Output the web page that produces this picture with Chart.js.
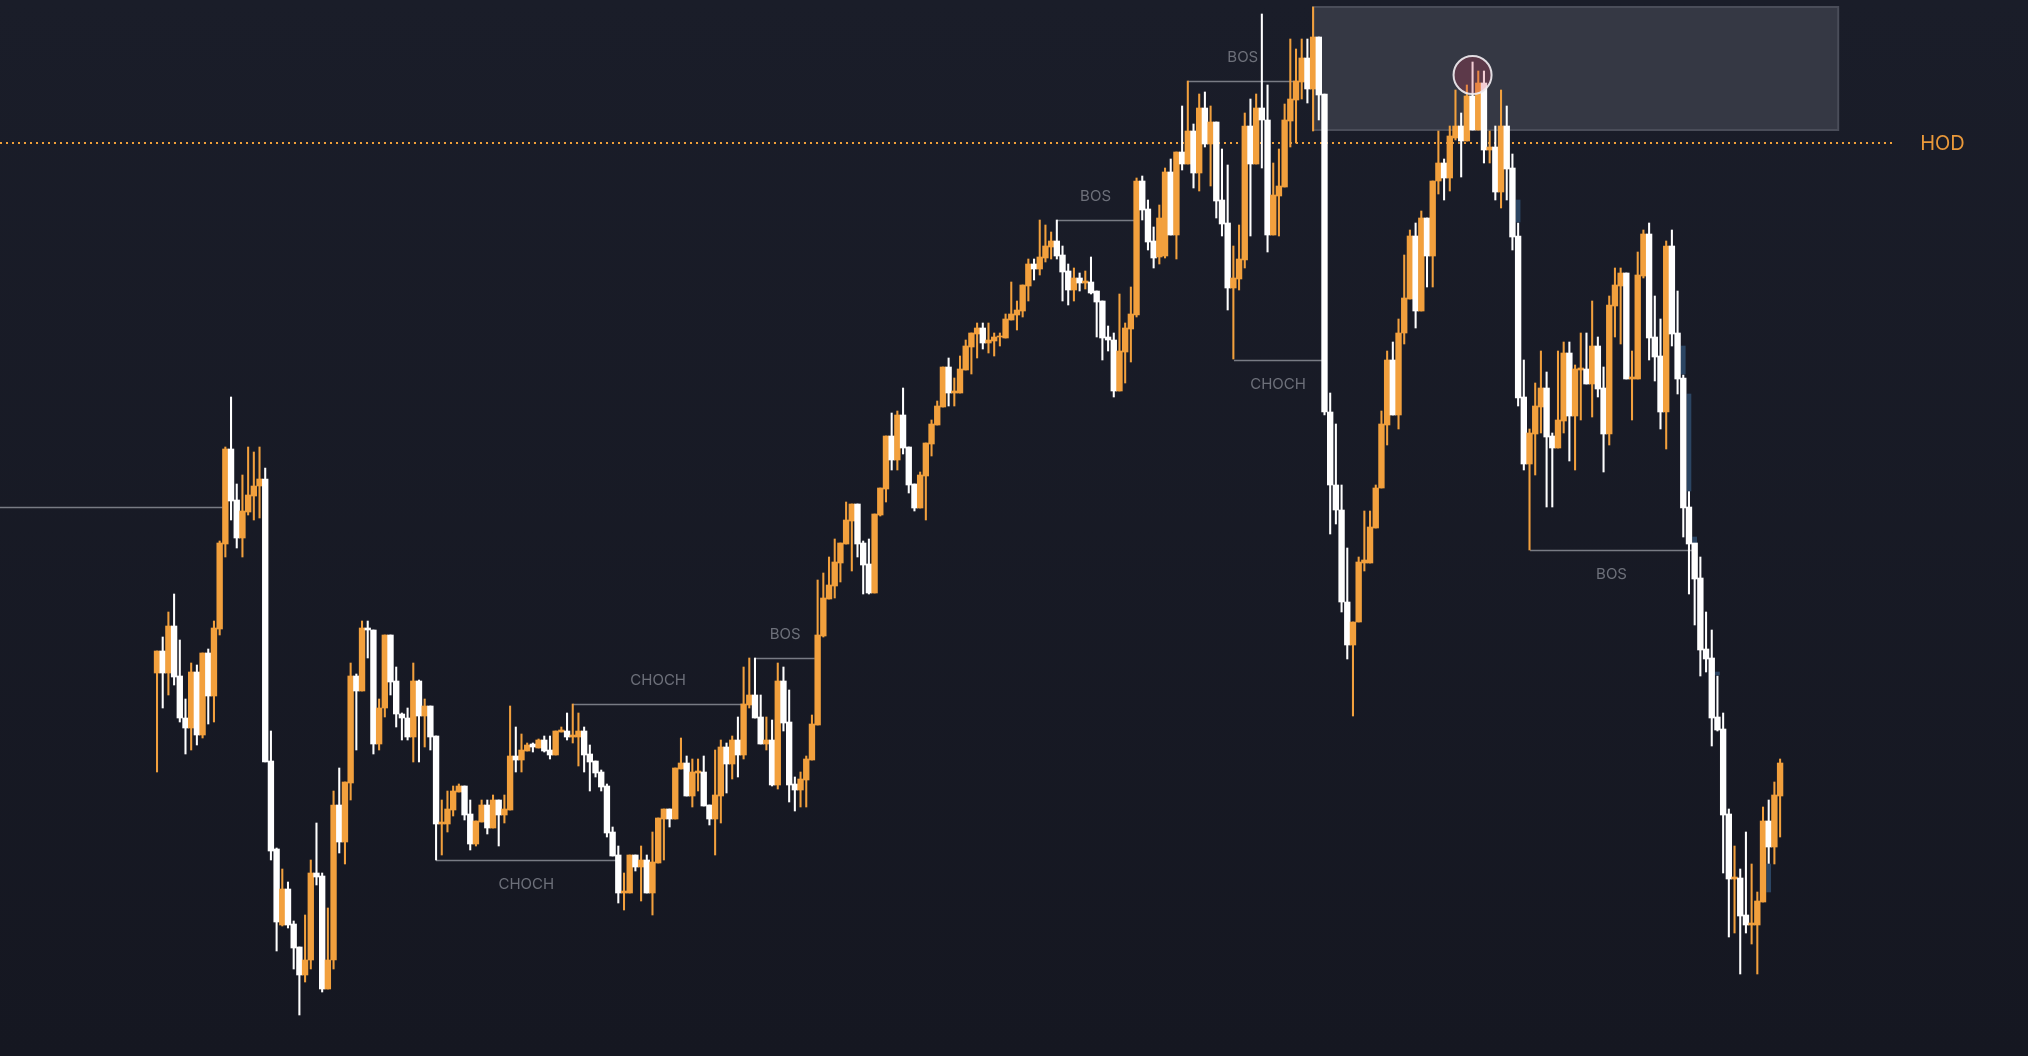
<!DOCTYPE html>
<html>
<head>
<meta charset="utf-8">
<script src="https://cdn.jsdelivr.net/npm/chart.js@4.4.1/dist/chart.umd.min.js"></script>
<style>
html,body{margin:0;padding:0;background:#171a25;overflow:hidden}
#wrap{width:2028px;height:1056px;position:relative}
canvas{display:block}
</style>
</head>
<body>
<div id="wrap"><canvas id="c" width="2028" height="1056"></canvas></div>
<script>
// ---- candle data (price units) ----
const opens = [
1327,1349,1327,1374,1324,1282,1272,1328,1265,1347,
1304,1371,1456,1551,1500,1462,1488,1504,1514,1521,
1239,1151,1075,1111,1076,1053,1025,1040,1127,1124,
1011,1040,1195,1158,1217,1324,1309,1372,1370,1256,
1292,1365,1319,1286,1282,1263,1319,1284,1294,1264,
1176,1176,1190,1208,1214,1186,1156,1178,1195,1172,
1200,1185,1190,1244,1240,1249,1256,1252,1260,1250,
1245,1268,1269,1263,1263,1269,1246,1239,1228,1214,
1168,1145,1107,1107,1145,1133,1140,1107,1137,1181,
1191,1181,1231,1237,1204,1227,1228,1195,1181,1204,
1253,1236,1260,1245,1295,1305,1283,1256,1260,1215,
1319,1278,1216,1210,1220,1240,1275,1364,1401,1414,
1437,1456,1479,1496,1457,1436,1407,1485,1511,1564,
1540,1585,1553,1516,1492,1524,1556,1575,1593,1633,
1607,1607,1630,1653,1666,1672,1657,1659,1663,1662,
1680,1685,1689,1714,1736,1731,1742,1753,1759,1745,
1729,1710,1722,1717,1718,1709,1699,1663,1660,1609,
1648,1671,1685,1819,1791,1759,1743,1744,1828,1765,
1848,1836,1869,1827,1892,1856,1878,1800,1777,1712,
1721,1740,1874,1836,1892,1880,1765,1804,1813,1879,
1900,1918,1942,1911,1963,1906,1588,1515,1490,1398,
1355,1378,1437,1437,1472,1512,1575,1640,1585,1667,
1701,1764,1689,1782,1744,1819,1837,1822,1862,1874,
1859,1904,1870,1917,1850,1853,1808,1874,1832,1764,
1603,1536,1566,1593,1612,1564,1552,1579,1647,1584,
1630,1631,1616,1654,1612,1566,1694,1714,1727,1621,
1621,1724,1766,1663,1644,1588,1754,1667,1622,1493,
1457,1422,1351,1342,1283,1271,1186,1121,1122,1085,
1075,1075,1098,1179,1153,1204
];
const highs = [
1349,1363,1388,1406,1360,1301,1337,1335,1347,1351,
1379,1459,1553,1603,1516,1525,1553,1548,1553,1532,
1269,1152,1131,1118,1079,1053,1085,1140,1177,1127,
1092,1209,1232,1218,1337,1326,1379,1379,1370,1301,
1365,1365,1333,1287,1292,1337,1320,1301,1294,1264,
1200,1209,1214,1216,1214,1200,1179,1200,1200,1205,
1200,1205,1294,1273,1266,1257,1257,1261,1264,1264,
1269,1273,1287,1296,1287,1273,1255,1239,1230,1216,
1173,1154,1127,1145,1145,1154,1145,1168,1182,1191,
1191,1232,1262,1244,1241,1241,1244,1195,1250,1260,
1257,1264,1283,1333,1342,1342,1305,1283,1280,1337,
1333,1310,1223,1228,1244,1285,1420,1427,1443,1461,
1457,1498,1496,1496,1459,1461,1486,1512,1564,1587,
1589,1612,1553,1516,1528,1557,1580,1599,1633,1642,
1622,1644,1660,1667,1677,1677,1677,1667,1667,1686,
1718,1699,1715,1741,1741,1780,1775,1768,1780,1754,
1736,1732,1727,1729,1743,1709,1699,1674,1667,1706,
1677,1713,1822,1824,1800,1773,1795,1832,1841,1848,
1894,1919,1876,1906,1908,1894,1878,1851,1835,1754,
1775,1887,1901,1906,1986,1915,1837,1851,1896,1961,
1951,1961,1961,1993,1963,1906,1607,1576,1515,1452,
1378,1443,1489,1489,1515,1589,1649,1658,1681,1745,
1770,1777,1789,1782,1819,1869,1841,1874,1910,1887,
1915,1938,1929,1929,1869,1874,1910,1894,1846,1777,
1640,1571,1617,1649,1628,1567,1649,1658,1658,1635,
1667,1667,1699,1663,1633,1704,1732,1732,1727,1649,
1748,1770,1777,1704,1681,1759,1770,1709,1625,1509,
1457,1443,1388,1370,1324,1287,1191,1154,1131,1168,
1136,1108,1193,1200,1218,1241
];
const lows = [
1228,1292,1305,1315,1278,1246,1250,1255,1262,1276,
1278,1365,1443,1480,1452,1443,1485,1480,1482,1238,
1140,1049,1074,1072,1031,985,1018,1031,1115,1008,
1011,1031,1147,1136,1200,1250,1309,1342,1246,1250,
1283,1305,1273,1260,1260,1238,1238,1253,1250,1140,
1145,1168,1184,1208,1180,1150,1154,1178,1166,1172,
1154,1177,1190,1228,1228,1249,1248,1252,1248,1241,
1245,1268,1260,1257,1234,1228,1209,1223,1209,1163,
1144,1097,1090,1107,1129,1099,1107,1085,1137,1140,
1173,1181,1231,1204,1193,1209,1194,1175,1145,1177,
1207,1221,1223,1241,1292,1282,1256,1250,1214,1211,
1269,1198,1189,1193,1193,1240,1275,1363,1401,1402,
1418,1456,1429,1443,1406,1406,1407,1484,1498,1530,
1530,1546,1507,1489,1492,1480,1544,1575,1593,1594,
1594,1607,1630,1626,1642,1651,1647,1644,1654,1662,
1680,1670,1683,1699,1720,1725,1738,1741,1741,1699,
1695,1699,1709,1711,1706,1663,1640,1649,1603,1609,
1617,1638,1683,1780,1750,1732,1736,1742,1765,1741,
1830,1836,1812,1809,1853,1814,1782,1764,1690,1641,
1710,1732,1764,1836,1832,1748,1765,1764,1813,1853,
1857,1901,1897,1869,1880,1585,1466,1476,1388,1341,
1284,1378,1429,1437,1472,1512,1555,1585,1571,1656,
1701,1672,1689,1713,1713,1806,1800,1809,1860,1823,
1859,1870,1870,1837,1837,1800,1792,1800,1750,1594,
1530,1450,1525,1567,1493,1493,1552,1567,1539,1530,
1580,1616,1583,1603,1528,1555,1663,1656,1621,1580,
1621,1722,1640,1619,1571,1551,1654,1606,1463,1406,
1375,1324,1328,1254,1269,1127,1063,1067,1026,1067,
1056,1026,1098,1136,1136,1163
];
const closes = [
1349,1327,1374,1323,1282,1272,1328,1265,1347,1304,
1372,1457,1551,1499,1462,1489,1505,1514,1521,1238,
1149,1078,1111,1075,1052,1025,1040,1127,1123,1011,
1040,1195,1158,1218,1324,1309,1372,1370,1256,1292,
1365,1318,1286,1282,1263,1319,1284,1294,1263,1176,
1178,1191,1209,1214,1185,1156,1179,1195,1172,1200,
1185,1191,1244,1240,1250,1255,1253,1260,1249,1245,
1269,1270,1263,1265,1269,1245,1238,1227,1213,1167,
1144,1107,1109,1145,1133,1140,1107,1138,1182,1191,
1181,1232,1237,1204,1228,1229,1194,1181,1205,1253,
1236,1260,1245,1296,1305,1282,1256,1260,1215,1319,
1277,1215,1210,1221,1241,1276,1365,1402,1415,1438,
1457,1480,1496,1456,1435,1407,1486,1512,1564,1540,
1585,1552,1515,1492,1525,1557,1576,1594,1633,1607,
1609,1631,1654,1667,1672,1657,1660,1663,1664,1681,
1686,1690,1715,1736,1731,1743,1754,1759,1744,1728,
1710,1722,1717,1719,1707,1698,1662,1660,1609,1649,
1672,1686,1819,1790,1758,1742,1782,1828,1765,1848,
1836,1869,1827,1892,1856,1878,1799,1776,1712,1722,
1741,1874,1836,1892,1880,1765,1805,1814,1880,1901,
1919,1942,1911,1963,1905,1588,1515,1490,1398,1355,
1378,1438,1440,1473,1512,1576,1640,1585,1667,1702,
1764,1689,1782,1744,1819,1837,1822,1864,1874,1859,
1904,1870,1917,1850,1853,1808,1874,1831,1763,1602,
1536,1567,1594,1612,1563,1552,1580,1647,1584,1631,
1632,1616,1654,1611,1566,1695,1715,1727,1621,1623,
1725,1766,1662,1643,1588,1754,1666,1621,1492,1456,
1421,1350,1341,1282,1270,1185,1121,1123,1084,1075,
1077,1099,1179,1153,1205,1237
];

// faint imbalance marks (candle index, low, high)
const ghostIdx  = [239, 268, 269, 270, 274, 283];
const ghostLow  = [1778, 1626, 1509, 1457, 1325, 1108];
const ghostHigh = [1800, 1654, 1606, 1463, 1328, 1136];

// market structure levels
const levelPrice = [1493, 1140, 1296, 1342, 1780, 1919, 1640, 1450];
const levelFrom  = [-30, 49, 73, 105.1, 158, 181, 189.1, 241.1];
const levelTo    = [11.5, 80.7, 103, 115.5, 171.6, 200.3, 204.6, 269.7];
const levelText  = ['', 'CHOCH', 'CHOCH', 'BOS', 'BOS', 'BOS', 'CHOCH', 'BOS'];
const levelSide  = [0, 1, -1, -1, -1, -1, 1, 1];   // -1 label above, 1 label below

// supply zone, high of day, marked swing
const zoneFrom = 203, zoneTo = 295.2, zoneTop = 1993, zoneBottom = 1870;
const hodPrice = 1857, hodTo = 305.2, hodLabelX = 309.6;
const markIdx = 231, markPrice = 1925;

// ---- chart ----
const UP = '#f2a03d', DOWN = '#ffffff';
const colors = opens.map((o, i) => closes[i] >= opens[i] ? UP : DOWN);
const XMIN = -27.57, XMAX = 328.53;

const overlay = {
  id: 'overlay',
  beforeDraw(chart) {
    const {ctx, width, height} = chart;
    ctx.save();
    const g = ctx.createLinearGradient(0, 0, 0, height);
    g.addColorStop(0, '#1a1d29');
    g.addColorStop(1, '#151721');
    ctx.fillStyle = g;
    ctx.fillRect(0, 0, width, height);
    ctx.restore();
  },
  beforeDatasetsDraw(chart) {
    const {ctx} = chart;
    const xs = chart.scales.x, ys = chart.scales.y;
    ctx.save();
    // zone
    const zx1 = xs.getPixelForValue(zoneFrom), zx2 = xs.getPixelForValue(zoneTo);
    const zy1 = ys.getPixelForValue(zoneTop), zy2 = ys.getPixelForValue(zoneBottom);
    ctx.fillStyle = '#353844';
    ctx.fillRect(zx1, zy1, zx2 - zx1, zy2 - zy1);
    ctx.strokeStyle = '#4a4d59';
    ctx.lineWidth = 2;
    ctx.strokeRect(zx1, zy1, zx2 - zx1, zy2 - zy1);
    // HOD dotted line
    const hy = ys.getPixelForValue(hodPrice);
    ctx.setLineDash([2, 4]);
    ctx.strokeStyle = '#f0a03a';
    ctx.lineWidth = 2;
    ctx.beginPath();
    ctx.moveTo(xs.getPixelForValue(XMIN), hy);
    ctx.lineTo(xs.getPixelForValue(hodTo), hy);
    ctx.stroke();
    ctx.setLineDash([]);
    // structure lines
    ctx.strokeStyle = '#787b84';
    ctx.lineWidth = 1.6;
    levelPrice.forEach((p, i) => {
      const y = Math.round(ys.getPixelForValue(p)) + 0.5;
      ctx.beginPath();
      ctx.moveTo(xs.getPixelForValue(levelFrom[i]), y);
      ctx.lineTo(xs.getPixelForValue(levelTo[i]), y);
      ctx.stroke();
    });
    ctx.restore();
  },
  afterDatasetsDraw(chart) {
    const {ctx} = chart;
    const xs = chart.scales.x, ys = chart.scales.y;
    ctx.save();
    // marked swing circle
    const cx = xs.getPixelForValue(markIdx), cy = ys.getPixelForValue(markPrice);
    ctx.beginPath();
    ctx.arc(cx, cy, 19, 0, Math.PI * 2);
    ctx.fillStyle = 'rgba(205,62,88,0.26)';
    ctx.fill();
    ctx.strokeStyle = 'rgba(240,236,240,0.92)';
    ctx.lineWidth = 2;
    ctx.stroke();
    // labels
    ctx.font = '15px Inter, "Noto Sans", sans-serif';
    ctx.fillStyle = '#6d707a';
    ctx.textAlign = 'center';
    ctx.textBaseline = 'middle';
    levelPrice.forEach((p, i) => {
      if (!levelText[i]) return;
      const x = xs.getPixelForValue((levelFrom[i] + levelTo[i]) / 2);
      const y = ys.getPixelForValue(p) + levelSide[i] * 24;
      ctx.fillText(levelText[i], x, y);
    });
    // HOD label
    ctx.font = '20px Inter, "Noto Sans", sans-serif';
    ctx.fillStyle = '#ea993a';
    ctx.textAlign = 'left';
    ctx.fillText('HOD', xs.getPixelForValue(hodLabelX), ys.getPixelForValue(hodPrice) + 1);
    ctx.restore();
  }
};

new Chart(document.getElementById('c'), {
  type: 'bar',
  data: {
    datasets: [
      {
        label: 'bodies',
        data: opens.map((o, i) => ({x: i, y: [Math.min(o, closes[i]), Math.max(o, closes[i])]})),
        backgroundColor: colors,
        barThickness: 5.7,
        grouped: false,
        order: 1
      },
      {
        label: 'imbalance',
        data: ghostIdx.map((g, i) => ({x: g, y: [ghostLow[i], ghostHigh[i]]})),
        backgroundColor: '#2b4563',
        barThickness: 4,
        grouped: false,
        order: 2
      },
      {
        label: 'wicks',
        data: opens.map((o, i) => ({x: i, y: [lows[i], highs[i]]})),
        backgroundColor: colors,
        barThickness: 1.4,
        grouped: false,
        order: 3
      }
    ]
  },
  options: {
    responsive: false,
    animation: false,
    events: [],
    layout: {padding: 0},
    plugins: {legend: {display: false}, tooltip: {enabled: false}},
    scales: {
      x: {type: 'linear', min: XMIN, max: XMAX, display: false, offset: false},
      y: {min: 944, max: 2000, display: false}
    }
  },
  plugins: [overlay]
});
</script>
</body>
</html>
